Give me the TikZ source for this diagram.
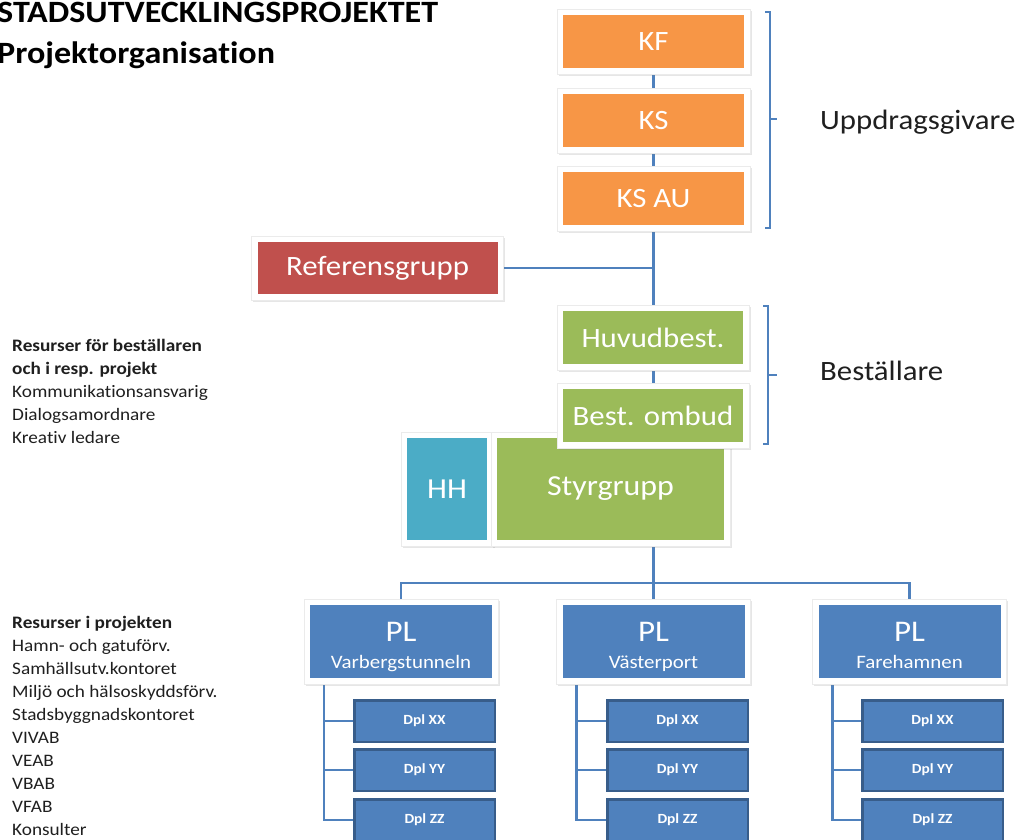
\documentclass[tikz,border=0pt]{standalone}
\usepackage{fontspec}
\setmainfont{Carlito}[FakeStretch=1.1, Ligatures=NoCommon]
\usetikzlibrary{shadows,calc,backgrounds}
\definecolor{corange}{HTML}{F79646}
\definecolor{cred}{HTML}{C0504D}
\definecolor{cgreen}{HTML}{9BBB59}
\definecolor{cteal}{HTML}{4BACC6}
\definecolor{cblue}{HTML}{4F81BD}
\definecolor{cdark}{HTML}{385D8A}
\definecolor{ctext}{HTML}{1F1F1F}
\tikzset{
  fbox/.style={fill=white, draw=black!8, line width=0.6pt, text=white, inner sep=0pt, align=center,
    drop shadow={shadow xshift=1.5pt, shadow yshift=-2pt, opacity=0.2},
    path picture={\fill[#1] ($(path picture bounding box.south west)+(6pt,6pt)$) rectangle ($(path picture bounding box.north east)+(-6pt,-6pt)$);}},
  topbox/.style={fbox=corange, minimum width=193pt, minimum height=65pt, font=\fontsize{28}{30}\selectfont},
  refbox/.style={fbox=cred, minimum width=252pt, minimum height=64pt, font=\fontsize{28}{30}\selectfont},
  greenbox/.style={fbox=cgreen, minimum width=192pt, minimum height=65pt, font=\fontsize{28}{30}\selectfont},
  hhbox/.style={fbox=cteal, minimum width=92pt, minimum height=114pt, font=\fontsize{29}{31}\selectfont},
  stybox/.style={fbox=cgreen, minimum width=239pt, minimum height=114pt, font=\fontsize{29}{31}\selectfont},
  plbox/.style={fbox=cblue, minimum width=194pt, minimum height=85pt, font=\fontsize{19}{27}\selectfont},
  dplbox/.style={draw=cdark, fill=cblue, line width=2.5pt, text=white, inner sep=0pt,
    minimum width=140.5pt, minimum height=41.5pt, font=\bfseries\fontsize{14}{15}\selectfont},
  conn/.style={draw=cblue, line width=2.5pt},
  brk/.style={draw=cblue, line width=1.3pt},
  lbl/.style={text=ctext, font=\fontsize{28}{30}\selectfont, anchor=west, inner sep=0pt},
  side/.style={text=ctext, align=left, anchor=north west, inner sep=0pt, font=\fontsize{17.5}{23}\selectfont}
}
\newcommand{\pltext}[1]{{\fontsize{30}{27}\selectfont\rule{0pt}{30pt}PL}\\#1\vphantom{gÄ}}
\begin{document}
\begin{tikzpicture}[x=1pt,y=-1pt]
\useasboundingbox (0,0) rectangle (1021,840);

% title
\node[anchor=north west, inner sep=0pt, align=left, text=black,
  font=\bfseries\fontsize{31}{41}\selectfont] (title) at (-3,2)
  {STADSUTVECKLINGSPROJEKTET\\Projektorganisation};

% side texts
\node[side] (res1) at (12,339) {\textbf{Resurser för beställaren}\\\textbf{och i resp. projekt}\\Kommunikationsansvarig\\Dialogsamordnare\\Kreativ ledare};
\node[side] (res2) at (12,616) {\textbf{Resurser i projekten}\\Hamn- och gatuförv.\\Samhällsutv.kontoret\\Miljö och hälsoskyddsförv.\\Stadsbyggnadskontoret\\VIVAB\\VEAB\\VBAB\\VFAB\\Konsulter};

% top boxes
\node[topbox] (KF) at (653.5,41.5) {KF};
\node[topbox] (KS) at (653.5,121) {KS};
\node[topbox] (KSAU) at (653.5,198.5) {KS AU};
\node[refbox] (ref) at (377.5,268) {Referensgrupp};

% styrgrupp row
\node[hhbox] (HH) at (447,489) {HH};
\node[stybox] (sty) at (610.5,489) {Styrgrupp};

% beställare
\node[greenbox] (huv) at (653,337.5) {Huvudbest.};
\node[greenbox] (omb) at (653,415.5) {Best. ombud};

% PL
\node[plbox] (PL1) at (401,641.5) {\pltext{Varbergstunneln}};
\node[plbox] (PL2) at (653.5,641.5) {\pltext{Västerport}};
\node[plbox] (PL3) at (909.5,641.5) {\pltext{Farehamnen}};

% Dpl
\foreach \c/\x in {1/424.5,2/677.5,3/932.5}{
  \node[dplbox] (d\c1) at (\x,721) {Dpl XX};
  \node[dplbox] (d\c2) at (\x,770) {Dpl YY};
  \node[dplbox] (d\c3) at (\x,820) {Dpl ZZ};
}

% labels
\node[lbl] (upp) at (820,122) {Uppdragsgivare};
\node[lbl] (bes) at (820,371) {Beställare};

% brackets
\draw[brk] (765,12) -- (770,12) -- (770,228) -- (765,228);
\draw[brk] (770,119) -- (777,119);
\draw[brk] (763,306) -- (768,306) -- (768,444) -- (763,444);
\draw[brk] (768,375) -- (777,375);

% connectors
\begin{scope}[on background layer]
  \coordinate (bus) at (653.5,583);
  \draw[conn] (KF.center) -- (bus);
  \draw[conn] (ref.east) -- (ref.east -| KF.center);
  \draw[conn] (PL1.north) |- (bus) -| (PL3.north);
  \draw[conn] (bus) -- (PL2.north);
  \foreach \c in {1,2,3}{
    \coordinate (s\c) at ($(PL\c.south)+(-77,0)$);
    \draw[conn] (s\c) |- (d\c3.west);
    \draw[conn] (s\c |- d\c1.west) -- (d\c1.west);
    \draw[conn] (s\c |- d\c2.west) -- (d\c2.west);
  }
\end{scope}
\end{tikzpicture}
\end{document}
